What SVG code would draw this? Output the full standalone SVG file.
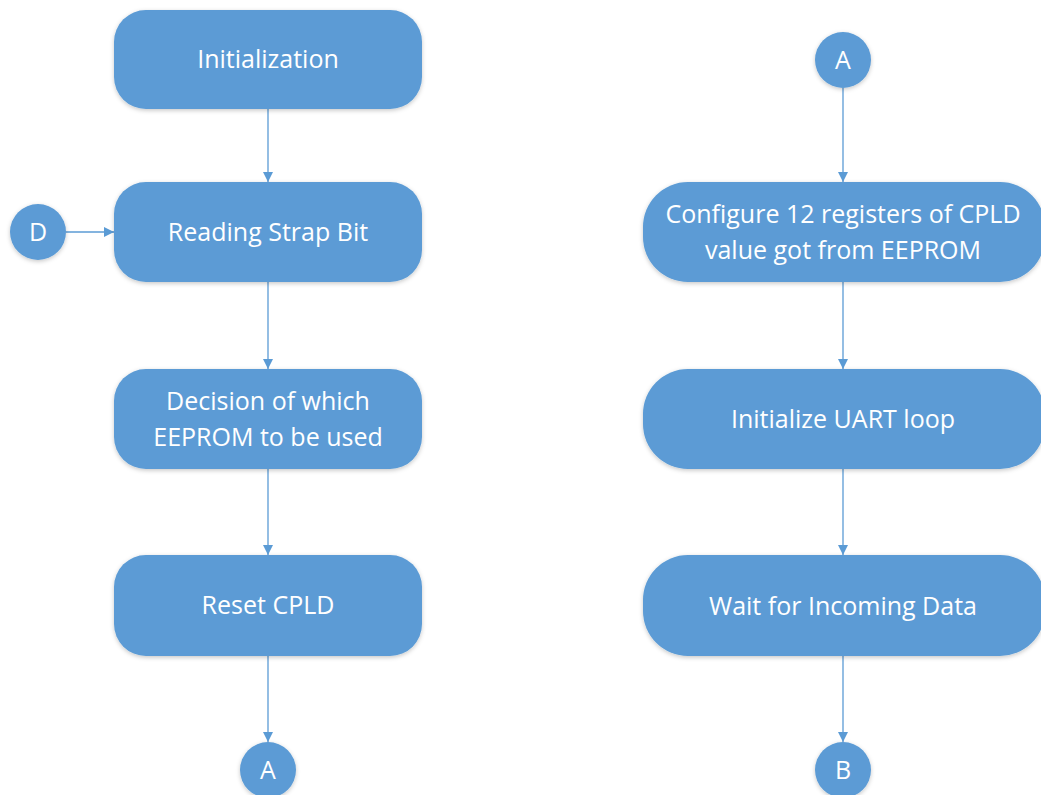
<svg xmlns="http://www.w3.org/2000/svg" width="1041" height="795" viewBox="0 0 1041 795">
  <defs>
    <filter id="shadow" x="-10%" y="-20%" width="120%" height="140%">
      <feDropShadow dx="0" dy="1.5" stdDeviation="2" flood-color="#000" flood-opacity="0.22"/>
    </filter>
    <marker id="arrow" viewBox="0 0 10 10" refX="10" refY="5" markerWidth="10" markerHeight="10" markerUnits="userSpaceOnUse" orient="auto">
      <path d="M0,0 L10,5 L0,10 Z" fill="#5B9BD5"/>
    </marker>
  </defs>
  <style>
    .box { fill: #5B9BD5; filter: url(#shadow); }
    .lbl { fill: #FFFFFF; font-family: "Open Sans", "Noto Sans", "Liberation Sans", sans-serif; font-size: 25px; text-anchor: middle; }
    .edge { stroke: #5B9BD5; stroke-width: 1.3; fill: none; marker-end: url(#arrow); }
  </style>
  <rect width="1041" height="795" fill="#FFFFFF"/>

  <g id="connectors">
    <line class="edge" x1="268" y1="109" x2="268" y2="182"/>
    <line class="edge" x1="66" y1="232" x2="114" y2="232"/>
    <line class="edge" x1="268" y1="282" x2="268" y2="369"/>
    <line class="edge" x1="268" y1="469" x2="268" y2="555"/>
    <line class="edge" x1="268" y1="656" x2="268" y2="742"/>
    <line class="edge" x1="843" y1="88" x2="843" y2="182"/>
    <line class="edge" x1="843" y1="282" x2="843" y2="369"/>
    <line class="edge" x1="843" y1="469" x2="843" y2="555"/>
    <line class="edge" x1="843" y1="656" x2="843" y2="742"/>
  </g>

  <!-- left column -->
  <g id="initialization">
    <rect class="box" x="114" y="10" width="308" height="99" rx="32"/>
    <text class="lbl" x="268" y="68">Initialization</text>
  </g>
  <g id="reading-strap-bit">
    <rect class="box" x="114" y="182" width="308" height="100" rx="32"/>
    <text class="lbl" x="268" y="241">Reading Strap Bit</text>
  </g>
  <g id="connector-d">
    <circle class="box" cx="38" cy="232" r="28"/>
    <text class="lbl" x="38" y="241">D</text>
  </g>
  <g id="decision-eeprom">
    <rect class="box" x="114" y="369" width="308" height="100" rx="32"/>
    <text class="lbl" x="268" y="410">Decision of which</text>
    <text class="lbl" x="268" y="446">EEPROM to be used</text>
  </g>
  <g id="reset-cpld">
    <rect class="box" x="114" y="555" width="308" height="101" rx="32"/>
    <text class="lbl" x="268" y="614">Reset CPLD</text>
  </g>
  <g id="connector-a-out">
    <circle class="box" cx="268" cy="770" r="28"/>
    <text class="lbl" x="268" y="779">A</text>
  </g>

  <!-- right column -->
  <g id="connector-a-in">
    <circle class="box" cx="843" cy="60" r="28"/>
    <text class="lbl" x="843" y="69">A</text>
  </g>
  <g id="configure-registers">
    <rect class="box" x="643" y="182" width="402" height="100" rx="45"/>
    <text class="lbl" x="843" y="223">Configure 12 registers of CPLD</text>
    <text class="lbl" x="843" y="259">value got from EEPROM</text>
  </g>
  <g id="initialize-uart">
    <rect class="box" x="643" y="369" width="402" height="100" rx="45"/>
    <text class="lbl" x="843" y="428">Initialize UART loop</text>
  </g>
  <g id="wait-incoming">
    <rect class="box" x="643" y="555" width="402" height="101" rx="45"/>
    <text class="lbl" x="843" y="615">Wait for Incoming Data</text>
  </g>
  <g id="connector-b">
    <circle class="box" cx="843" cy="770" r="28"/>
    <text class="lbl" x="843" y="779">B</text>
  </g>
</svg>
